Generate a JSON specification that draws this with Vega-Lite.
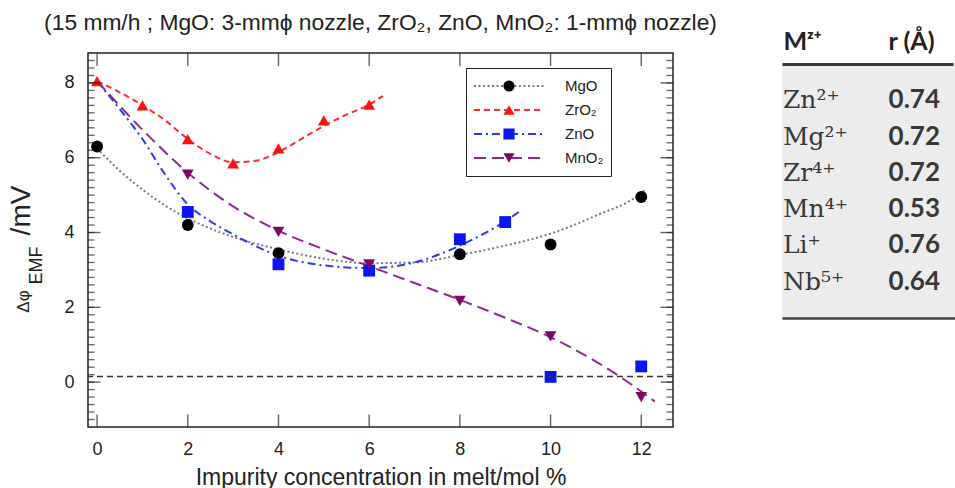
{
  "$schema": "https://vega.github.io/schema/vega-lite/v6.json",
  "background": "white",
  "padding": {"left": 7, "top": 12, "right": 0, "bottom": 0},
  "datasets": {
    "fits": [
      {"fit": "MgO", "x": 0, "y": 6.25}, {"fit": "MgO", "x": 0.5, "y": 5.65}, {"fit": "MgO", "x": 1, "y": 5.15}, {"fit": "MgO", "x": 1.5, "y": 4.72}, {"fit": "MgO", "x": 2, "y": 4.38}, {"fit": "MgO", "x": 3, "y": 3.88}, {"fit": "MgO", "x": 4, "y": 3.55}, {"fit": "MgO", "x": 5, "y": 3.3}, {"fit": "MgO", "x": 6, "y": 3.18}, {"fit": "MgO", "x": 7, "y": 3.2}, {"fit": "MgO", "x": 8, "y": 3.4}, {"fit": "MgO", "x": 9, "y": 3.65}, {"fit": "MgO", "x": 10, "y": 3.97}, {"fit": "MgO", "x": 11, "y": 4.45}, {"fit": "MgO", "x": 12, "y": 5.05}, {"fit": "MgO", "x": 12.1, "y": 5.15},
      {"fit": "ZrO₂", "x": 0, "y": 8.05}, {"fit": "ZrO₂", "x": 0.5, "y": 7.75}, {"fit": "ZrO₂", "x": 1, "y": 7.4}, {"fit": "ZrO₂", "x": 1.5, "y": 7.0}, {"fit": "ZrO₂", "x": 2, "y": 6.5}, {"fit": "ZrO₂", "x": 2.5, "y": 6.1}, {"fit": "ZrO₂", "x": 3, "y": 5.88}, {"fit": "ZrO₂", "x": 3.5, "y": 5.92}, {"fit": "ZrO₂", "x": 4, "y": 6.15}, {"fit": "ZrO₂", "x": 4.5, "y": 6.5}, {"fit": "ZrO₂", "x": 5, "y": 6.85}, {"fit": "ZrO₂", "x": 5.5, "y": 7.15}, {"fit": "ZrO₂", "x": 6, "y": 7.42}, {"fit": "ZrO₂", "x": 6.3, "y": 7.65},
      {"fit": "ZnO", "x": 0, "y": 8.05}, {"fit": "ZnO", "x": 0.5, "y": 7.3}, {"fit": "ZnO", "x": 1, "y": 6.5}, {"fit": "ZnO", "x": 1.5, "y": 5.55}, {"fit": "ZnO", "x": 2, "y": 4.75}, {"fit": "ZnO", "x": 2.5, "y": 4.3}, {"fit": "ZnO", "x": 3, "y": 3.95}, {"fit": "ZnO", "x": 4, "y": 3.38}, {"fit": "ZnO", "x": 5, "y": 3.12}, {"fit": "ZnO", "x": 6, "y": 3.05}, {"fit": "ZnO", "x": 7, "y": 3.2}, {"fit": "ZnO", "x": 8, "y": 3.65}, {"fit": "ZnO", "x": 8.5, "y": 3.95}, {"fit": "ZnO", "x": 9, "y": 4.3}, {"fit": "ZnO", "x": 9.3, "y": 4.55},
      {"fit": "MnO₂", "x": 0, "y": 8.05}, {"fit": "MnO₂", "x": 1, "y": 6.75}, {"fit": "MnO₂", "x": 2, "y": 5.6}, {"fit": "MnO₂", "x": 3, "y": 4.7}, {"fit": "MnO₂", "x": 4, "y": 4.05}, {"fit": "MnO₂", "x": 5, "y": 3.55}, {"fit": "MnO₂", "x": 6, "y": 3.1}, {"fit": "MnO₂", "x": 7, "y": 2.65}, {"fit": "MnO₂", "x": 8, "y": 2.2}, {"fit": "MnO₂", "x": 9, "y": 1.72}, {"fit": "MnO₂", "x": 10, "y": 1.2}, {"fit": "MnO₂", "x": 11, "y": 0.55}, {"fit": "MnO₂", "x": 12, "y": -0.25}, {"fit": "MnO₂", "x": 12.3, "y": -0.52}
    ],
    "points": [
      {"material": "MgO", "x": 0, "y": 6.3}, {"material": "MgO", "x": 2, "y": 4.2}, {"material": "MgO", "x": 4, "y": 3.45}, {"material": "MgO", "x": 8, "y": 3.42}, {"material": "MgO", "x": 10, "y": 3.68}, {"material": "MgO", "x": 12, "y": 4.95},
      {"material": "ZnO", "x": 2, "y": 4.55}, {"material": "ZnO", "x": 4, "y": 3.15}, {"material": "ZnO", "x": 6, "y": 2.98}, {"material": "ZnO", "x": 8, "y": 3.82}, {"material": "ZnO", "x": 9, "y": 4.28}, {"material": "ZnO", "x": 10, "y": 0.14}, {"material": "ZnO", "x": 12, "y": 0.42},
      {"material": "MnO₂", "x": 2, "y": 5.55}, {"material": "MnO₂", "x": 4, "y": 4.02}, {"material": "MnO₂", "x": 6, "y": 3.15}, {"material": "MnO₂", "x": 8, "y": 2.17}, {"material": "MnO₂", "x": 10, "y": 1.22}, {"material": "MnO₂", "x": 12, "y": -0.4},
      {"material": "ZrO₂", "x": 0, "y": 8.05}, {"material": "ZrO₂", "x": 1, "y": 7.4}, {"material": "ZrO₂", "x": 2, "y": 6.5}, {"material": "ZrO₂", "x": 3, "y": 5.85}, {"material": "ZrO₂", "x": 4, "y": 6.25}, {"material": "ZrO₂", "x": 5, "y": 7.0}, {"material": "ZrO₂", "x": 6, "y": 7.42}
    ],
    "baseline": [{"level": 0.15}],
    "xticks": [{"v": 0}, {"v": 2}, {"v": 4}, {"v": 6}, {"v": 8}, {"v": 10}, {"v": 12}],
    "yticks": [{"v": 0}, {"v": 2}, {"v": 4}, {"v": 6}, {"v": 8}],
    "yminor": [{"v": -1}, {"v": -0.8}, {"v": -0.6}, {"v": -0.4}, {"v": -0.2}, {"v": 0}, {"v": 0.2}, {"v": 0.4}, {"v": 0.6}, {"v": 0.8}, {"v": 1}, {"v": 1.2}, {"v": 1.4}, {"v": 1.6}, {"v": 1.8}, {"v": 2}, {"v": 2.2}, {"v": 2.4}, {"v": 2.6}, {"v": 2.8}, {"v": 3}, {"v": 3.2}, {"v": 3.4}, {"v": 3.6}, {"v": 3.8}, {"v": 4}, {"v": 4.2}, {"v": 4.4}, {"v": 4.6}, {"v": 4.8}, {"v": 5}, {"v": 5.2}, {"v": 5.4}, {"v": 5.6}, {"v": 5.8}, {"v": 6}, {"v": 6.2}, {"v": 6.4}, {"v": 6.6}, {"v": 6.8}, {"v": 7}, {"v": 7.2}, {"v": 7.4}, {"v": 7.6}, {"v": 7.8}, {"v": 8}, {"v": 8.2}, {"v": 8.4}, {"v": 8.6}],
    "panel": [{"name": "ionic radii"}],
    "table": [
      {"ion": "Zn²⁺", "r": 0.74}, {"ion": "Mg²⁺", "r": 0.72}, {"ion": "Zr⁴⁺", "r": 0.72}, {"ion": "Mn⁴⁺", "r": 0.53}, {"ion": "Li⁺", "r": 0.76}, {"ion": "Nb⁵⁺", "r": 0.64}
    ]
  },
  "width": 585,
  "height": 374,
  "title": {"text": "(15 mm/h ; MgO: 3-mmϕ nozzle, ZrO₂, ZnO, MnO₂: 1-mmϕ nozzle)", "font": "Liberation Sans", "fontSize": 22.8, "fontWeight": "normal", "color": "#222", "anchor": "middle", "offset": -6},
  "resolve": {"scale": {"x": "independent", "y": "independent"}, "axis": {"x": "independent", "y": "independent"}},
  "layer": [
    {
      "data": {"name": "fits"},
      "mark": {"type": "line", "interpolate": "monotone", "strokeWidth": 2},
      "encoding": {
        "x": {"field": "x", "type": "quantitative", "scale": {"domain": [-0.2, 12.7], "nice": false, "zero": false},
          "axis": {"orient": "bottom", "values": [0, 2, 4, 6, 8, 10, 12], "ticks": false, "labelPadding": 13, "domain": false, "grid": false, "labelFontSize": 18, "labelColor": "#222", "title": "Impurity concentration in melt/mol %", "titleFontSize": 23, "titleFontWeight": "normal", "titleColor": "#222", "titlePadding": 8}},
        "y": {"field": "y", "type": "quantitative", "scale": {"domain": [-1.2, 8.8], "nice": false, "zero": false},
          "axis": {"orient": "left", "values": [0, 2, 4, 6, 8], "ticks": false, "labelPadding": 14, "domain": false, "grid": false, "labelFontSize": 18, "labelColor": "#222", "title": "Δφ", "titleX": -60, "titleY": 248, "titleAngle": 270, "titleBaseline": "alphabetic", "titleAlign": "center", "titleFontSize": 17, "titleFontWeight": "normal", "titleColor": "#222"}},
        "stroke": {"field": "fit", "type": "nominal",
          "scale": {"range": ["#7a7a7a", "#8a2a8a", "#2a3af0", "#ff2a2a"]},
          "legend": {"title": null, "orient": "none", "legendX": 378, "legendY": 15, "padding": 7, "clipHeight": 22, "rowPadding": 2, "symbolType": "stroke", "symbolSize": 4900, "symbolStrokeWidth": 1.8, "labelOffset": 20, "labelFontSize": 15, "labelColor": "#222", "strokeColor": "#222", "values": ["MgO", "ZrO₂", "ZnO", "MnO₂"]}},
        "strokeDash": {"field": "fit", "type": "nominal",
          "scale": {"range": [[2, 2.5], [12, 6], [8, 4, 2, 4], [6, 4]]},
          "legend": {"title": null, "orient": "none", "legendX": 378, "legendY": 15, "padding": 7, "clipHeight": 22, "rowPadding": 2, "symbolType": "stroke", "symbolSize": 4900, "symbolStrokeWidth": 1.8, "labelOffset": 20, "labelFontSize": 15, "labelColor": "#222", "strokeColor": "#222", "values": ["MgO", "ZrO₂", "ZnO", "MnO₂"]}}
      }
    },
    {
      "data": {"name": "points"},
      "mark": {"type": "point", "filled": true, "size": 140, "opacity": 1},
      "encoding": {
        "x": {"field": "x", "type": "quantitative", "scale": {"domain": [-0.2, 12.7], "nice": false, "zero": false},
          "axis": {"orient": "top", "values": [0, 2, 4, 6, 8, 10, 12], "ticks": false, "labels": false, "domain": false, "grid": false, "title": "/mV", "titleX": -59, "titleY": 157, "titleAngle": 270, "titleBaseline": "alphabetic", "titleAlign": "center", "titleFontSize": 28, "titleFontWeight": "normal", "titleColor": "#222"}},
        "y": {"field": "y", "type": "quantitative", "scale": {"domain": [-1.2, 8.8], "nice": false, "zero": false}, "axis": null},
        "color": {"field": "material", "type": "nominal",
          "scale": {"range": ["#000000", "#7d0a62", "#0a14f5", "#ff1010"]},
          "legend": {"title": null, "orient": "none", "legendX": 378, "legendY": 15, "padding": 7, "clipHeight": 22, "rowPadding": 2, "symbolSize": 125, "symbolStrokeWidth": 0, "symbolOffset": 28.5, "labelFontSize": 15, "labelOpacity": 0, "values": ["MgO", "ZrO₂", "ZnO", "MnO₂"]}},
        "shape": {"field": "material", "type": "nominal",
          "scale": {"range": ["circle", "triangle-down", "square", "triangle-up"]},
          "legend": {"title": null, "orient": "none", "legendX": 378, "legendY": 15, "padding": 7, "clipHeight": 22, "rowPadding": 2, "symbolSize": 125, "symbolStrokeWidth": 0, "symbolOffset": 28.5, "labelFontSize": 15, "labelOpacity": 0, "values": ["MgO", "ZrO₂", "ZnO", "MnO₂"]}}
      }
    },
    {
      "data": {"name": "baseline"},
      "mark": {"type": "rule", "strokeDash": [6, 4], "strokeWidth": 1.3, "color": "#333"},
      "encoding": {
        "y": {"field": "level", "type": "quantitative", "scale": {"domain": [-1.2, 8.8], "nice": false, "zero": false},
          "axis": {"orient": "left", "values": [0], "ticks": false, "labels": false, "domain": false, "grid": false, "title": "EMF", "titleX": -47, "titleY": 212, "titleAngle": 270, "titleBaseline": "alphabetic", "titleAlign": "center", "titleFontSize": 18, "titleFontWeight": "normal", "titleColor": "#222"}}
      }
    },
    {
      "data": {"name": "xticks"},
      "mark": {"type": "tick", "orient": "vertical", "size": 25, "thickness": 1.4, "color": "#222", "clip": true},
      "encoding": {
        "x": {"field": "v", "type": "quantitative", "scale": {"domain": [-0.2, 12.7], "nice": false, "zero": false}, "axis": null},
        "y": {"datum": -1.2, "type": "quantitative", "scale": {"domain": [-1.2, 8.8], "nice": false, "zero": false}, "axis": null}
      }
    },
    {
      "data": {"name": "xticks"},
      "mark": {"type": "tick", "orient": "vertical", "size": 26, "thickness": 1.4, "color": "#222", "clip": true},
      "encoding": {
        "x": {"field": "v", "type": "quantitative", "scale": {"domain": [-0.2, 12.7], "nice": false, "zero": false}, "axis": null},
        "y": {"datum": 8.8, "type": "quantitative", "scale": {"domain": [-1.2, 8.8], "nice": false, "zero": false}, "axis": null}
      }
    },
    {
      "data": {"name": "yticks"},
      "mark": {"type": "tick", "orient": "horizontal", "size": 25, "thickness": 1.4, "color": "#222", "clip": true},
      "encoding": {
        "y": {"field": "v", "type": "quantitative", "scale": {"domain": [-1.2, 8.8], "nice": false, "zero": false}, "axis": null},
        "x": {"datum": -0.2, "type": "quantitative", "scale": {"domain": [-0.2, 12.7], "nice": false, "zero": false}, "axis": null}
      }
    },
    {
      "data": {"name": "yticks"},
      "mark": {"type": "tick", "orient": "horizontal", "size": 25, "thickness": 1.4, "color": "#222", "clip": true},
      "encoding": {
        "y": {"field": "v", "type": "quantitative", "scale": {"domain": [-1.2, 8.8], "nice": false, "zero": false}, "axis": null},
        "x": {"datum": 12.7, "type": "quantitative", "scale": {"domain": [-0.2, 12.7], "nice": false, "zero": false}, "axis": null}
      }
    },
    {
      "data": {"name": "yminor"},
      "mark": {"type": "tick", "orient": "horizontal", "size": 13, "thickness": 1.3, "color": "#222", "clip": true},
      "encoding": {
        "y": {"field": "v", "type": "quantitative", "scale": {"domain": [-1.2, 8.8], "nice": false, "zero": false}, "axis": null},
        "x": {"datum": -0.2, "type": "quantitative", "scale": {"domain": [-0.2, 12.7], "nice": false, "zero": false}, "axis": null}
      }
    },
    {
      "data": {"name": "yminor"},
      "mark": {"type": "tick", "orient": "horizontal", "size": 13, "thickness": 1.3, "color": "#222", "clip": true},
      "encoding": {
        "y": {"field": "v", "type": "quantitative", "scale": {"domain": [-1.2, 8.8], "nice": false, "zero": false}, "axis": null},
        "x": {"datum": 12.7, "type": "quantitative", "scale": {"domain": [-0.2, 12.7], "nice": false, "zero": false}, "axis": null}
      }
    },
    {
      "data": {"name": "panel"},
      "mark": {"type": "rect", "color": "#ececec"},
      "encoding": {
        "x": {"datum": 0, "type": "quantitative", "scale": {"domain": [0, 1], "range": [694, 869], "nice": false, "zero": false},
          "axis": {"orient": "bottom", "offset": -109, "title": null, "ticks": false, "labels": false, "grid": false, "domain": true, "domainColor": "#444", "domainWidth": 2.5, "zindex": 1}},
        "x2": {"datum": 1},
        "y": {"datum": 0, "type": "quantitative", "scale": {"domain": [0, 1], "range": [265, 11], "nice": false, "zero": false}, "axis": null},
        "y2": {"datum": 1}
      }
    },
    {
      "data": {"name": "table"},
      "mark": {"type": "text", "align": "left", "baseline": "middle", "font": "DejaVu Serif", "fontSize": 25, "color": "#383838", "dx": 1},
      "encoding": {
        "x": {"datum": "Mᶻ⁺", "type": "nominal", "scale": {"type": "point", "domain": ["Mᶻ⁺", "r (Å)"], "range": [694, 865], "padding": 0},
          "axis": {"orient": "top", "offset": -11, "title": null, "ticks": false, "grid": false, "domain": true, "domainColor": "#3a3a3a", "domainWidth": 3, "zindex": 1, "labelAngle": 0, "labelPadding": 10, "labelFont": "Lato", "labelFontSize": 25, "labelFontWeight": "bold", "labelColor": "#222",
            "labelAlign": {"condition": {"test": "datum.value == 'Mᶻ⁺'", "value": "left"}, "value": "right"},
            "labelOffset": {"condition": {"test": "datum.value == 'Mᶻ⁺'", "value": 1}, "value": -19}}},
        "y": {"field": "ion", "type": "nominal", "sort": null, "axis": null, "scale": {"type": "point", "domain": ["Zn²⁺", "Mg²⁺", "Zr⁴⁺", "Mn⁴⁺", "Li⁺", "Nb⁵⁺"], "range": [11, 265], "padding": 1.03}},
        "text": {"field": "ion"}
      }
    },
    {
      "data": {"name": "table"},
      "mark": {"type": "text", "align": "right", "baseline": "middle", "font": "Lato", "fontSize": 26, "fontWeight": "bold", "color": "#383838", "dx": -13},
      "encoding": {
        "x": {"datum": "r (Å)", "type": "nominal", "scale": {"type": "point", "domain": ["Mᶻ⁺", "r (Å)"], "range": [694, 865], "padding": 0}, "axis": null},
        "y": {"field": "ion", "type": "nominal", "sort": null, "axis": null, "scale": {"type": "point", "domain": ["Zn²⁺", "Mg²⁺", "Zr⁴⁺", "Mn⁴⁺", "Li⁺", "Nb⁵⁺"], "range": [11, 265], "padding": 1.03}},
        "text": {"field": "r", "format": ".2f"}
      }
    }
  ],
  "config": {
    "font": "Liberation Sans",
    "view": {"stroke": "#222", "strokeWidth": 1.5},
    "axis": {"labelFont": "Liberation Sans", "titleFont": "Liberation Sans"},
    "legend": {"labelFont": "Liberation Sans"}
  }
}
